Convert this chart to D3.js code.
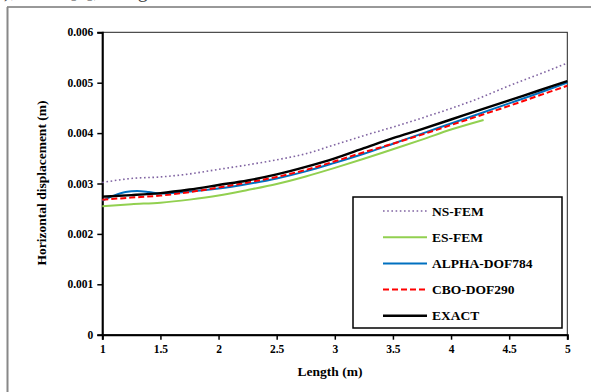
<!DOCTYPE html>
<html>
<head>
<meta charset="utf-8">
<script src="https://cdn.jsdelivr.net/npm/d3@7"></script>
<style>
body{margin:0;background:#fff;}
svg{display:block;font-family:"Liberation Serif","Times New Roman",serif;}
</style>
</head>
<body>
<div id="container"></div>
<script>
const width = 591
const height = 392
const margin = {left:102.3, top:32.3, right:23.7, bottom:57.3}
const g_width = width - margin.left - margin.right
const g_height = height - margin.top - margin.bottom

// data (values in m)
const xGrid = [1,1.25,1.5,1.75,2,2.25,2.5,2.75,3,3.25,3.5,3.75,4,4.25,4.5,4.75,5]
const nsFem = [0.00302,0.00310,0.00313,0.00319,0.00328,0.00337,0.00347,0.00359,0.00377,0.00395,0.00412,0.00430,0.00449,0.00470,0.00494,0.00516,0.00539]
const esX = [1,1.25,1.5,1.75,2,2.25,2.5,2.75,3,3.25,3.5,3.75,4,4.28]
const esFem = [0.00255,0.00259,0.00262,0.00268,0.00276,0.00287,0.00299,0.00314,0.00331,0.00349,0.00368,0.00387,0.00407,0.00426]
const alphaX = [1,1.1,1.2,1.3,1.4,1.5,1.75,2,2.25,2.5,2.75,3,3.25,3.5,3.75,4,4.25,4.5,4.75,5]
const alpha = [0.00266,0.00276,0.00283,0.00285,0.00283,0.00280,0.00284,0.00290,0.00299,0.00310,0.00324,0.00341,0.00359,0.00379,0.00399,0.00419,0.00439,0.00459,0.00479,0.00500]
const cbo = [0.00268,0.00272,0.00276,0.00283,0.00292,0.00302,0.00313,0.00327,0.00344,0.00362,0.00379,0.00397,0.00416,0.00435,0.00454,0.00474,0.00494]
const exact = [0.00274,0.00277,0.00281,0.00288,0.00297,0.00306,0.00318,0.00333,0.00350,0.00370,0.00390,0.00408,0.00427,0.00446,0.00465,0.00484,0.00503]
const xTicks = [1,1.5,2,2.5,3,3.5,4,4.5,5]
const yTicks = [0,0.001,0.002,0.003,0.004,0.005,0.006]

const series = [
  {name:'NS-FEM', x:xGrid, y:nsFem, color:'#8064A2', w:1.6, dash:'1.6,2.6'},
  {name:'ES-FEM', x:esX, y:esFem, color:'#92D050', w:2, dash:null},
  {name:'ALPHA-DOF784', x:alphaX, y:alpha, color:'#0070C0', w:2, dash:null},
  {name:'CBO-DOF290', x:xGrid, y:cbo, color:'#FF0000', w:2, dash:'6,3'},
  {name:'EXACT', x:xGrid, y:exact, color:'#000', w:2.4, dash:null}
]

const svg = d3.select('#container')
  .append('svg')
  .attr('width',width)
  .attr('height',height)

// outer chart frame + cut caption text above
svg.append('text')
  .attr('x',-6).attr('y',-3.5)
  .attr('font-size',20).attr('fill','#444')
  .text('y), while [4], along the x')
svg.append('line').attr('x1',7).attr('x2',width).attr('y1',7).attr('y2',7)
  .attr('stroke','#333').attr('stroke-width',1)
svg.append('line').attr('x1',7.5).attr('x2',7.5).attr('y1',7).attr('y2',height)
  .attr('stroke','#888').attr('stroke-width',2)

const g = svg.append('g')
  .attr('transform',`translate(${margin.left},${margin.top})`)

const scale_x = d3.scaleLinear().domain([1,5]).range([0,g_width])
const scale_y = d3.scaleLinear().domain([0,0.006]).range([g_height,0])

// plot frame (top/right)
g.append('rect')
  .attr('width',g_width).attr('height',g_height)
  .attr('fill','none').attr('stroke','#222').attr('stroke-width',1)

const x_axis = d3.axisBottom(scale_x).tickValues(xTicks).tickSize(5).tickPadding(5)
  .tickFormat(d=>d3.format('')(d))
const y_axis = d3.axisLeft(scale_y).tickValues(yTicks).tickSize(5).tickPadding(4)
  .tickFormat(d=>d===0?'0':d3.format('.3f')(d))

const gx = g.append('g').attr('transform',`translate(0,${g_height})`).call(x_axis)
const gy = g.append('g').call(y_axis)
;[gx,gy].forEach(a=>{
  a.select('.domain').attr('stroke','#000').attr('stroke-width',2)
  a.selectAll('.tick line').attr('stroke','#000').attr('stroke-width',1.5)
  a.selectAll('text').attr('font-family','"Liberation Serif",serif')
    .attr('font-weight','bold').attr('font-size',11.5).attr('fill','#000')
})

// lines
series.forEach(s=>{
  const line = d3.line()
    .x((d,i)=>scale_x(s.x[i]))
    .y(d=>scale_y(d))
    .curve(d3.curveMonotoneX)
  g.append('path')
    .attr('d',line(s.y))
    .attr('fill','none')
    .attr('stroke',s.color)
    .attr('stroke-width',s.w)
    .attr('stroke-dasharray',s.dash)
})

// axis titles
svg.append('text')
  .attr('x',330).attr('y',376)
  .attr('text-anchor','middle').attr('font-weight','bold').attr('font-size',13.5)
  .text('Length (m)')
svg.append('text')
  .attr('transform','translate(46,183) rotate(-90)')
  .attr('text-anchor','middle').attr('font-weight','bold').attr('font-size',13.5)
  .text('Horizontal displacement (m)')

// legend
const lg = svg.append('g').attr('transform','translate(353,197)')
lg.append('rect').attr('width',209).attr('height',131)
  .attr('fill','#fff').attr('stroke','#000').attr('stroke-width',1.5)
series.forEach((s,i)=>{
  const y = 14 + i*26.2
  lg.append('line').attr('x1',30).attr('x2',74).attr('y1',y).attr('y2',y)
    .attr('stroke',s.color).attr('stroke-width',s.w)
    .attr('stroke-dasharray',s.dash)
  lg.append('text').attr('x',79).attr('y',y+4.5)
    .attr('font-weight','bold').attr('font-size',13.5)
    .text(s.name)
})
</script>
</body>
</html>
